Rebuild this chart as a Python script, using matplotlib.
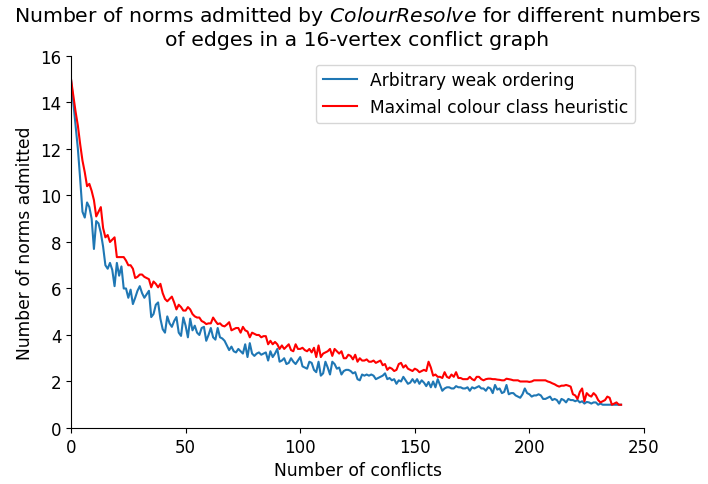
import numpy as np
import matplotlib
matplotlib.use("Agg")
import matplotlib.pyplot as plt

# number of conflicts (edges), 0..240
conflicts = list(range(241))

arbitrary = [
    15.0, 14.0, 13.0, 12.0, 10.7, 9.3, 9.05, 9.7, 9.5, 9.0,
    7.7, 8.9, 8.8, 8.4, 7.8, 7.0, 6.85, 7.1, 6.8, 6.1,
    7.1, 6.55, 6.95, 6.0, 6.0, 5.6, 5.95, 5.33, 5.6, 5.9,
    6.1, 5.8, 5.6, 5.75, 5.9, 4.77, 4.9, 5.3, 5.4, 4.7,
    4.25, 4.1, 4.8, 4.5, 4.35, 4.6, 4.77, 4.1, 3.96, 4.75,
    4.4, 3.9, 4.7, 4.2, 4.4, 4.1, 4.0, 4.3, 4.35, 3.75,
    4.0, 4.3, 3.9, 3.8, 4.3, 3.9, 3.85, 3.75, 3.55, 3.35,
    3.5, 3.3, 3.25, 3.4, 3.3, 3.2, 3.6, 3.05, 3.65, 3.2,
    3.1, 3.2, 3.25, 3.15, 3.2, 3.25, 2.9, 3.3, 3.05, 3.2,
    3.4, 2.85, 2.9, 3.0, 2.75, 2.8, 3.0, 2.85, 2.75, 2.9,
    3.05, 2.65, 2.6, 2.55, 2.85, 2.8, 2.5, 2.4, 2.85, 2.25,
    2.35, 2.85, 2.6, 2.3, 2.85, 2.75, 2.55, 2.6, 2.3, 2.45,
    2.5, 2.5, 2.45, 2.35, 2.4, 2.1, 2.05, 2.3, 2.25, 2.3,
    2.25, 2.3, 2.25, 2.1, 2.15, 2.2, 2.25, 2.35, 2.1, 2.15,
    2.05, 2.1, 1.9, 2.05, 2.0, 2.2, 2.05, 1.9, 1.95, 2.1,
    1.95, 2.1, 1.9, 2.05, 1.95, 1.8, 1.98, 1.75, 2.0, 1.75,
    2.1, 1.85, 1.6, 1.7, 1.75, 1.75, 1.7, 1.7, 1.8, 1.75,
    1.75, 1.7, 1.7, 1.75, 1.6, 1.75, 1.7, 1.75, 1.8, 1.7,
    1.7, 1.6, 1.75, 1.7, 1.5, 1.85, 1.65, 1.7, 1.5, 1.55,
    1.85, 1.45, 1.5, 1.5, 1.4, 1.35, 1.3, 1.45, 1.7, 1.5,
    1.45, 1.35, 1.4, 1.4, 1.45, 1.4, 1.25, 1.25, 1.3, 1.35,
    1.2, 1.25, 1.2, 1.05, 1.25, 1.2, 1.1, 1.25, 1.2, 1.2,
    1.15, 1.2, 1.1, 1.15, 1.05, 1.12, 1.1, 1.05, 1.1, 1.1,
    1.0, 1.05, 1.0, 1.0, 1.0, 1.0, 1.0, 1.0, 1.0, 1.0,
    1.0,
]

maximal = [
    15.0, 14.3, 13.6, 13.0, 12.2, 11.5, 11.0, 10.4, 10.5, 10.2,
    9.8, 9.1, 9.3, 9.5, 8.6, 8.2, 8.3, 8.0, 8.1, 8.2,
    7.35, 7.35, 7.35, 7.35, 7.2, 7.0, 7.0, 6.85, 6.45, 6.5,
    6.6, 6.6, 6.5, 6.45, 6.4, 6.05, 6.3, 6.2, 6.05, 6.2,
    5.8, 5.55, 5.45, 5.55, 5.65, 5.4, 5.1, 5.3, 5.2, 5.05,
    5.05, 5.2, 5.1, 4.9, 4.8, 4.75, 4.75, 4.6, 4.55, 4.47,
    4.5, 4.5, 4.75, 4.6, 4.47, 4.5, 4.4, 4.37, 4.45, 4.55,
    4.2, 4.25, 4.3, 4.3, 4.1, 4.35, 4.2, 4.15, 3.9, 4.1,
    4.05, 4.0, 4.0, 3.9, 3.95, 3.95, 3.6, 3.75, 3.6, 3.7,
    3.6, 3.4, 3.55, 3.4, 3.5, 3.6, 3.35, 3.3, 3.6, 3.4,
    3.4, 3.45, 3.35, 3.3, 3.4, 3.25, 3.45, 3.05, 3.55, 3.05,
    3.2, 3.25, 3.3, 3.4, 3.1, 3.4, 3.3, 3.2, 3.3, 3.0,
    3.0, 3.15, 3.1, 2.95, 3.15, 2.85, 3.0, 2.9, 2.9, 2.95,
    2.85, 2.85, 2.9, 2.8, 2.85, 2.9, 2.7, 2.75, 2.5, 2.6,
    2.55, 2.45, 2.5, 2.75, 2.8, 2.6, 2.7, 2.55, 2.5, 2.45,
    2.55, 2.5, 2.4, 2.45, 2.5, 2.45, 2.85, 2.6, 2.25, 2.3,
    2.2, 2.2, 2.15, 2.4, 2.2, 2.15, 2.3, 2.2, 2.4, 2.15,
    2.15, 2.1, 2.1, 2.1, 2.2, 2.1, 2.05, 2.2, 2.2, 2.1,
    2.05, 2.1, 2.12, 2.12, 2.1, 2.1, 2.08, 2.07, 2.05, 2.05,
    2.12, 2.1, 2.08, 2.05, 2.05, 2.05, 2.0, 2.0, 2.0, 2.0,
    1.98, 2.0, 2.05, 2.05, 2.05, 2.05, 2.05, 2.05, 2.0, 1.97,
    1.92, 1.88, 1.82, 1.78, 1.82, 1.82, 1.85, 1.82, 1.78, 1.45,
    1.4, 1.25, 1.55, 1.7, 1.15, 1.5, 1.4, 1.35, 1.5, 1.4,
    1.2, 1.1, 1.15, 1.2, 1.35, 1.3, 1.0, 1.05, 1.1, 1.0,
    1.0,
]

fig = plt.figure(figsize=(7.08, 4.85), dpi=100)
ax = fig.add_axes([0.1003, 0.1155, 0.8093, 0.767])

ax.plot(conflicts, arbitrary, color="#1f77b4", lw=1.5, label="Arbitrary weak ordering")
ax.plot(conflicts, maximal, color="red", lw=1.5, label="Maximal colour class heuristic")

ax.set_xlim(0, 250)
ax.set_ylim(0, 16)
ax.set_xticks(np.arange(0, 251, 50))
ax.set_yticks(np.arange(0, 17, 2))
ax.tick_params(labelsize=12)
ax.spines["top"].set_visible(False)
ax.spines["right"].set_visible(False)

ax.set_xlabel("Number of conflicts", fontsize=12.3)
ax.set_ylabel("Number of norms admitted", fontsize=12.3)
ax.set_title("Number of norms admitted by $\\it{ColourResolve}$ for different numbers\n"
             "of edges in a 16-vertex conflict graph", fontsize=14.7, pad=8)
ax.legend(loc="upper right", fontsize=12.3, bbox_to_anchor=(1.0, 1.0))

plt.savefig("out.png")
plt.close()
